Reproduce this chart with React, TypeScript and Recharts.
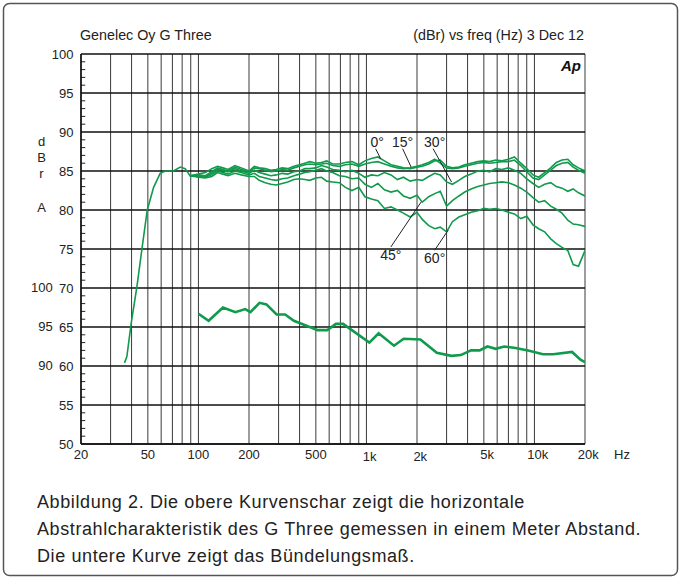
import React from 'react';
import { LineChart, Line, XAxis, YAxis, CartesianGrid, ReferenceLine, ReferenceDot } from 'recharts';

// ---------- data ----------
const gridFreqs = [
  20, 30, 40, 50, 60, 70, 80, 90,
  100, 200, 300, 400, 500, 600, 700, 800, 900,
  1000, 2000, 3000, 4000, 5000, 6000, 7000, 8000, 9000,
  10000, 20000,
];
const labelFreqs = [20, 50, 100, 200, 500, 1000, 2000, 5000, 10000, 20000];
const labelTexts = ['20', '50', '100', '200', '500', '1k', '2k', '5k', '10k', '20k'];

const yTicks = [50, 55, 60, 65, 70, 75, 80, 85, 90, 95, 100];
const yMinorTicks = Array.from({ length: 51 }, (_, i) => 50 + i).filter((v) => v % 5 !== 0);
const diScaleLabels = ['100', '95', '90'];
const diScaleValues = [70, 65, 60];

// low-frequency roll-off (common to all angles)
const lfFreq = [36.3, 37.5, 39.8, 43.0, 46.3, 49.6, 54.1, 59.2, 63.6, 71.1, 77.9, 83.4, 89];
const lfLevel = [60.4, 61.2, 65.5, 70.1, 75.3, 80.0, 82.9, 84.7, 85.0, 85.0, 85.5, 85.3, 84.4];

const freq = [
  89, 100, 110, 120, 130, 140, 150, 165, 180, 200, 215, 230, 250, 270, 290, 315, 340, 370, 400, 430,
  460, 500, 540, 580, 630, 690, 750, 820, 900, 980, 1070, 1170, 1280, 1400, 1530, 1660, 1820, 2000,
  2150, 2350, 2550, 2750, 3000, 3250, 3550, 3850, 4200, 4600, 5000, 5400, 5900, 6400, 7000, 7600,
  8300, 9000, 9800, 10600, 11500, 12500, 13500, 14600, 15800, 17000, 18300, 20000,
];
const deg0 = [
  84.4, 84.6, 84.8, 85.3, 85.6, 85.4, 85.2, 85.7, 85.4, 85.0, 85.6, 85.4, 85.3, 85.1, 85.2, 85.4, 85.3, 85.6, 85.8, 86.0,
  86.2, 86.0, 86.1, 86.3, 85.9, 85.9, 86.1, 86.2, 85.8, 86.3, 86.6, 86.8, 86.3, 85.8, 85.6, 85.4, 85.3, 85.5,
  85.6, 85.9, 86.3, 86.4, 85.6, 85.4, 85.5, 85.8, 86.0, 86.2, 86.3, 86.2, 86.4, 86.3, 86.5, 86.8,
  86.0, 85.3, 84.5, 84.2, 84.8, 85.4, 86.1, 86.4, 86.5, 85.8, 85.4, 85.0,
];
const deg15 = [
  84.4, 84.5, 84.4, 84.9, 85.4, 85.2, 85.0, 85.5, 85.2, 84.9, 85.4, 85.3, 85.1, 84.9, 85.0, 85.2, 85.1, 85.4, 85.6, 85.8,
  85.9, 85.8, 85.9, 86.0, 85.7, 85.6, 85.8, 85.9, 85.6, 85.9, 86.1, 86.2, 85.9, 85.6, 85.4, 85.3, 85.4, 85.6,
  85.8, 86.1, 86.5, 86.0, 85.4, 85.3, 85.4, 85.6, 85.8, 86.0, 86.1, 86.0, 86.1, 86.2, 86.2, 86.4,
  85.7, 84.9, 84.1, 83.9, 84.5, 85.1, 85.7, 86.0, 86.1, 85.5, 85.1, 84.7,
];
const deg30 = [
  84.4, 84.4, 84.3, 84.7, 85.2, 85.1, 84.9, 85.3, 85.0, 84.7, 85.1, 84.8, 84.6, 84.4, 84.5, 84.7, 84.6, 84.9, 85.0, 85.3,
  85.3, 85.4, 85.7, 85.5, 85.2, 85.1, 84.9, 85.1, 84.7, 84.2, 84.5, 84.4, 84.8, 84.5, 83.9, 84.2, 83.7, 83.9,
  83.8, 84.3, 84.7, 84.5, 83.6, 83.3, 83.8, 84.3, 84.6, 85.0, 85.1, 84.9, 85.3, 85.2, 85.4, 85.1,
  84.7, 84.0, 83.4, 82.9, 83.3, 83.5, 83.0, 82.8, 82.4, 82.7, 82.2, 81.8,
];
const deg45 = [
  84.4, 84.3, 84.2, 84.5, 85.0, 84.8, 84.6, 85.0, 84.8, 84.5, 84.7, 84.3, 84.1, 83.9, 83.8, 84.0, 84.1, 84.4, 84.6, 84.8,
  84.9, 85.1, 85.3, 85.0, 84.8, 84.4, 84.3, 84.0, 84.1, 83.3, 82.9, 83.4, 82.6, 82.3, 82.5, 81.8, 81.5, 81.9,
  81.0, 81.7, 82.1, 82.4, 80.5, 81.2, 81.8, 82.3, 82.7, 83.0, 83.2, 83.4, 83.5, 83.6, 83.5, 83.2,
  82.8, 82.3, 81.6, 81.0, 81.2, 80.5, 80.1, 79.6, 78.7, 78.2, 78.1, 77.9,
];
const deg60 = [
  84.4, 84.2, 84.1, 84.3, 84.8, 84.6, 84.4, 84.7, 84.5, 84.3, 84.3, 83.8, 83.5, 83.3, 83.2, 83.4, 83.6, 83.9, 84.0, 83.9,
  83.8, 84.1, 84.2, 83.7, 83.6, 83.5, 82.9, 82.5, 82.9, 81.7, 81.4, 81.2, 80.2, 80.4, 80.0, 79.6, 79.1, 79.7,
  78.8, 78.0, 77.6, 77.8, 77.2, 78.5, 79.1, 79.4, 79.7, 79.9, 80.2, 80.1, 80.2, 80.0, 79.7, 79.5,
  78.9, 79.2, 78.1, 77.6, 77.2, 76.3, 75.7, 75.2, 74.8, 73.0, 72.8, 74.8,
];

// directivity index (plotted against the 90-100 offset scale)
const diFreq = [
  100, 115, 140, 166, 190, 204, 231, 254, 292, 328, 370, 513, 585, 658, 726, 1041, 1182, 1459, 1665,
  2095, 2623, 3209, 3646, 4196, 4715, 5254, 5877, 6612, 7722, 9312, 11236, 12938, 16743, 18805, 20000,
];
const diLevel = [
  66.7, 65.8, 67.5, 66.9, 67.3, 66.9, 68.1, 67.9, 66.6, 66.6, 65.8, 64.6, 64.6, 65.4, 65.4, 63.0, 64.2, 62.6, 63.5,
  63.4, 61.7, 61.3, 61.4, 62.0, 62.0, 62.5, 62.2, 62.5, 62.3, 61.95, 61.5, 61.5, 61.8, 60.8, 60.5,
];

// angle labels and leader lines (data coordinates)
const angleNames = ['0°', '15°', '30°', '45°', '60°'];
const angleLabelF = [1158, 1642, 2548, 1397, 2548];
const angleLabelV = [88.7, 88.7, 88.7, 74.2, 73.8];
const leaderFrom = [[1134, 87.86], [1642, 87.86], [2493, 87.86], [1397, 75.26], [2548, 74.84]];
const leaderTo = [[1215, 86.58], [1845, 85.51], [3212, 83.59], [2116, 81.02], [3062, 77.4]];

// minor tick length expressed on the frequency axis (from 20 Hz to this)
const minorTickEndF = 21.2;

const captionLines = [
  'Abbildung 2. Die obere Kurvenschar zeigt die horizontale',
  'Abstrahlcharakteristik des G Three gemessen in einem Meter Abstand.',
  'Die untere Kurve zeigt das Bündelungsmaß.',
];

// ---------- helpers ----------
const toPts = (fs: number[], vs: number[]) => fs.map((f, i) => ({ f, v: vs[i] }));
const series0 = toPts([...lfFreq, ...freq.slice(1)], [...lfLevel, ...deg0.slice(1)]);
const series15 = toPts(freq, deg15);
const series30 = toPts(freq, deg30);
const series45 = toPts(freq, deg45);
const series60 = toPts(freq, deg60);
const seriesDI = toPts(diFreq, diLevel);

const GREEN = '#109a4c';
const FONT = '"Liberation Sans", Arial, Helvetica, sans-serif';
const TICK_FS = 13;

const XTick = (props: any) => {
  const { x, y, payload } = props;
  const idx = labelFreqs.indexOf(payload.value);
  if (idx < 0) return null;
  const txt = labelTexts[idx];
  const hasK = txt.endsWith('k');
  const num = hasK ? txt.slice(0, -1) : txt;
  const numW = num.length * TICK_FS * 0.556;
  const dy = payload.value === 1000 || payload.value === 2000 ? 17.3 : 15.3;
  return (
    <text x={x - numW / 2} y={y + dy} fontSize={TICK_FS} fill="#222" fontFamily={FONT} textAnchor="start">
      {txt}
    </text>
  );
};

const angleShape = (name: string) => (p: any) => (
  <text x={p.cx} y={p.cy} fontSize={14} fill="#222" fontFamily={FONT} textAnchor="middle" dominantBaseline="central">
    {name}
  </text>
);

export default function App() {
  return (
    <div style={{ position: 'absolute', left: 0, top: 0, width: 681, height: 579, background: '#fff', fontFamily: FONT }}>
      <div style={{ position: 'absolute', left: 0, top: 0 }}>
        <LineChart width={681} height={470} margin={{ top: 54, right: 96, bottom: 0, left: 0 }}>
          <CartesianGrid horizontal={false} vertical stroke="#3a3a3a" strokeWidth={1} />
          <CartesianGrid horizontal vertical={false} stroke="#111" strokeWidth={1.4} />
          <XAxis
            dataKey="f"
            type="number"
            scale="log"
            domain={[20, 20000]}
            ticks={gridFreqs}
            interval={0}
            allowDataOverflow
            height={26}
            tickSize={0}
            tickMargin={0}
            tickLine={false}
            axisLine={{ stroke: '#111', strokeWidth: 1.4 }}
            tick={<XTick />}
          />
          <YAxis
            type="number"
            domain={[50, 100]}
            ticks={yTicks}
            interval={0}
            allowDataOverflow
            width={81}
            tickSize={0}
            tickMargin={7.5}
            tickLine={false}
            axisLine={{ stroke: '#111', strokeWidth: 1.6 }}
            tick={{ fontSize: TICK_FS, fill: '#222', fontFamily: FONT }}
          />
          {yMinorTicks.map((v) => (
            <ReferenceLine
              key={'m' + v}
              segment={[
                { x: 20, y: v },
                { x: minorTickEndF, y: v },
              ]}
              stroke="#222"
              strokeWidth={1}
            />
          ))}
          <Line data={seriesDI} dataKey="v" type="linear" stroke={GREEN} strokeWidth={2.6} dot={false} isAnimationActive={false} />
          <Line data={series60} dataKey="v" type="linear" stroke={GREEN} strokeWidth={1.6} dot={false} isAnimationActive={false} />
          <Line data={series45} dataKey="v" type="linear" stroke={GREEN} strokeWidth={1.6} dot={false} isAnimationActive={false} />
          <Line data={series30} dataKey="v" type="linear" stroke={GREEN} strokeWidth={1.6} dot={false} isAnimationActive={false} />
          <Line data={series15} dataKey="v" type="linear" stroke={GREEN} strokeWidth={1.6} dot={false} isAnimationActive={false} />
          <Line data={series0} dataKey="v" type="linear" stroke={GREEN} strokeWidth={1.6} dot={false} isAnimationActive={false} />
          {angleNames.map((n, i) => (
            <ReferenceLine
              key={'l' + n}
              segment={[
                { x: leaderFrom[i][0], y: leaderFrom[i][1] },
                { x: leaderTo[i][0], y: leaderTo[i][1] },
              ]}
              stroke="#222"
              strokeWidth={1}
            />
          ))}
          {angleNames.map((n, i) => (
            <ReferenceDot key={'d' + n} x={angleLabelF[i]} y={angleLabelV[i]} r={0} shape={angleShape(n)} />
          ))}
        </LineChart>
      </div>
      <svg width={681} height={579} style={{ position: 'absolute', left: 0, top: 0, pointerEvents: 'none' }}>
        <rect x={3.5} y={3.5} width={674} height={572} rx={6} fill="none" stroke="#555" strokeWidth={1.5} />
        <text x={80} y={40} fontSize={14.3} fill="#222" fontFamily={FONT}>Genelec Oy G Three</text>
        <text x={584} y={40} fontSize={14.3} fill="#222" fontFamily={FONT} textAnchor="end">(dBr) vs freq (Hz) 3 Dec 12</text>
        <text x={581} y={71} fontSize={15} fontWeight="bold" fontStyle="italic" fill="#111" fontFamily={FONT} textAnchor="end">Ap</text>
        <text x={41.5} y={145.5} fontSize={TICK_FS} fill="#222" fontFamily={FONT} textAnchor="middle">d</text>
        <text x={41.5} y={162} fontSize={TICK_FS} fill="#222" fontFamily={FONT} textAnchor="middle">B</text>
        <text x={41.5} y={177.5} fontSize={TICK_FS} fill="#222" fontFamily={FONT} textAnchor="middle">r</text>
        <text x={41.5} y={212} fontSize={TICK_FS} fill="#222" fontFamily={FONT} textAnchor="middle">A</text>
        {diScaleLabels.map((t, i) => (
          <text key={t} x={52.7} y={53.5 + (100 - diScaleValues[i]) * 7.8 + 4.6} fontSize={TICK_FS} fill="#222" fontFamily={FONT} textAnchor="end">
            {t}
          </text>
        ))}
        <text x={614} y={459.3} fontSize={TICK_FS} fill="#222" fontFamily={FONT}>Hz</text>
        {captionLines.map((t, i) => (
          <text key={i} x={37} y={507.5 + i * 27} fontSize={18} letterSpacing={0.6} fill="#222" fontFamily={FONT}>
            {t}
          </text>
        ))}
      </svg>
    </div>
  );
}
